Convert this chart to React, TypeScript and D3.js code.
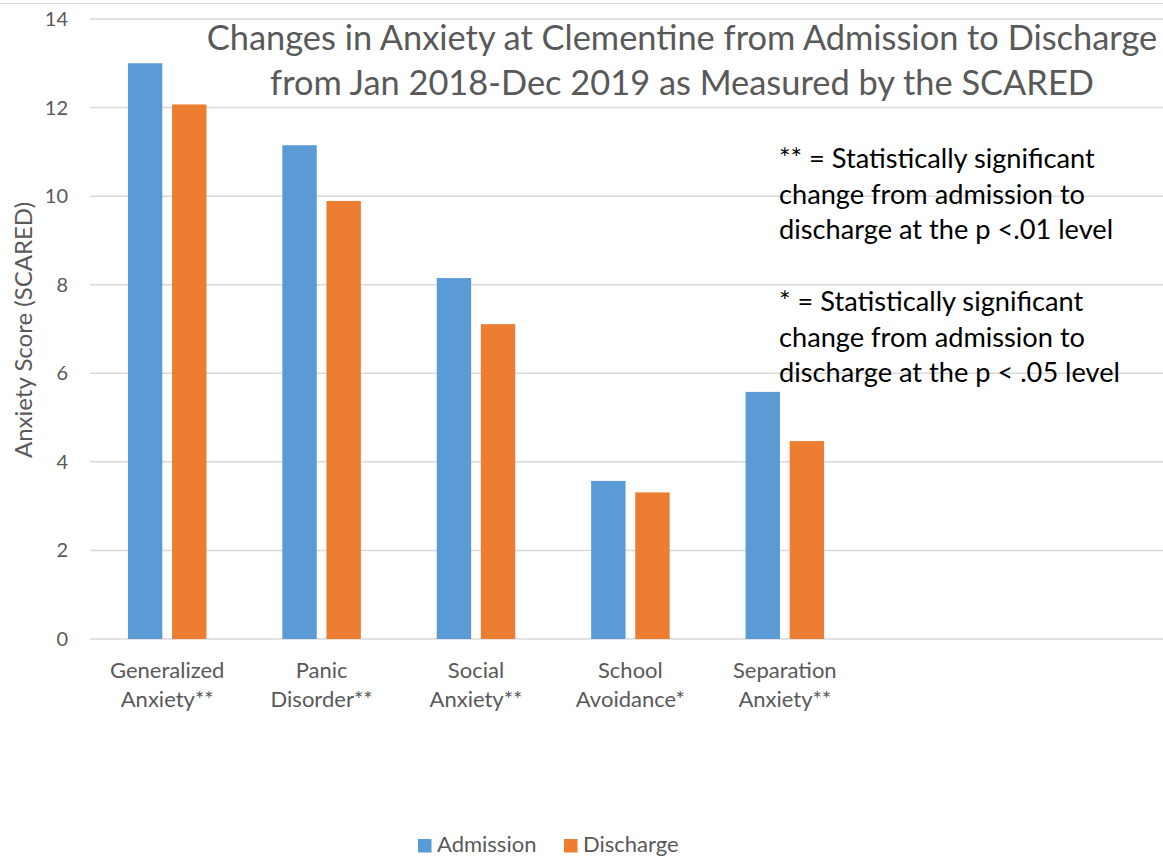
import React from "react";
import * as d3 from "d3";

// Category labels (two lines each) and the two series
const categoryLines: string[][] = [
  ["Generalized", "Anxiety**"],
  ["Panic", "Disorder**"],
  ["Social", "Anxiety**"],
  ["School", "Avoidance*"],
  ["Separation", "Anxiety**"],
];
const seriesNames = ["Admission", "Discharge"];
const admission = [13.0, 11.15, 8.15, 3.57, 5.58];
const discharge = [12.07, 9.89, 7.11, 3.31, 4.47];
const yTicks = [0, 2, 4, 6, 8, 10, 12, 14];
const slotCount = 7; // axis reserves two empty category slots on the right

const titleLines = [
  "Changes in Anxiety at Clementine from Admission to Discharge",
  "from Jan 2018-Dec 2019 as Measured by the SCARED",
];
const noteLines = [
  "** = Statistically significant",
  "change from admission to",
  "discharge at the p <.01 level",
  "",
  "* = Statistically significant",
  "change from admission to",
  "discharge at the p < .05 level",
];

const COLORS: Record<string, string> = { Admission: "#5B9BD5", Discharge: "#ED7D31" };
const FONT = "Lato, 'Open Sans', sans-serif";
const W = 1163;
const H = 859;

export default function App() {
  const plotLeft = 90;
  const plotTop = 19;
  const plotBottom = 639;

  const x0 = d3
    .scaleBand<number>()
    .domain(d3.range(slotCount))
    .range([plotLeft, plotLeft + 154.4 * slotCount])
    .padding(0);
  const step = x0.bandwidth();
  const groupW = 78.5;
  const x1 = d3
    .scaleBand<string>()
    .domain(seriesNames)
    .range([step / 2 - groupW / 2, step / 2 + groupW / 2])
    .paddingInner(0.22)
    .paddingOuter(0);
  const y = d3.scaleLinear().domain([0, 14]).range([plotBottom, plotTop]);

  const values: Record<string, number[]> = { Admission: admission, Discharge: discharge };

  return (
    <svg
      width={W}
      height={H}
      style={{ position: "absolute", left: 0, top: 0, display: "block", background: "#fff" }}
      fontFamily={FONT}
    >
      {/* chart frame top edge */}
      <line x1={0} x2={W} y1={3.5} y2={3.5} stroke="#d9d9d9" strokeWidth={1} />

      {/* horizontal gridlines */}
      {yTicks.map((t) => (
        <line
          key={"g" + t}
          x1={plotLeft}
          x2={W}
          y1={y(t)}
          y2={y(t)}
          stroke="#d9d9d9"
          strokeWidth={1.5}
        />
      ))}

      {/* y tick labels */}
      {yTicks.map((t) => (
        <text
          key={"t" + t}
          x={68}
          y={y(t)}
          dy="0.35em"
          textAnchor="end"
          fontSize={20}
          fill="#595959"
        >
          {t}
        </text>
      ))}

      {/* y axis title */}
      <text
        transform={`translate(32,330) rotate(-90)`}
        textAnchor="middle"
        fontSize={24}
        fill="#595959"
      >
        Anxiety Score (SCARED)
      </text>

      {/* bars */}
      {categoryLines.map((_, i) =>
        seriesNames.map((s) => {
          const v = values[s][i];
          return (
            <rect
              key={s + i}
              x={(x0(i) as number) + (x1(s) as number)}
              y={y(v)}
              width={x1.bandwidth()}
              height={y(0) - y(v)}
              fill={COLORS[s]}
            />
          );
        })
      )}

      {/* category labels */}
      {categoryLines.map((lines, i) => (
        <text
          key={"c" + i}
          x={(x0(i) as number) + step / 2}
          y={678}
          textAnchor="middle"
          fontSize={22}
          fill="#595959"
        >
          {lines.map((ln, k) => (
            <tspan key={k} x={(x0(i) as number) + step / 2} dy={k === 0 ? 0 : 29}>
              {ln}
            </tspan>
          ))}
        </text>
      ))}

      {/* title */}
      {titleLines.map((ln, k) => (
        <text
          key={"ti" + k}
          x={682}
          y={50 + k * 45}
          textAnchor="middle"
          fontSize={34.4}
          fill="#595959"
        >
          {ln}
        </text>
      ))}

      {/* significance note */}
      {noteLines.map((ln, k) => (
        <text key={"n" + k} x={779} y={168 + k * 35.7} fontSize={27.2} fill="#000">
          {ln}
        </text>
      ))}

      {/* legend */}
      {seriesNames.map((s, k) => {
        const lx = k === 0 ? 418 : 564;
        return (
          <g key={"l" + s}>
            <rect x={lx} y={839} width={13.5} height={13.5} fill={COLORS[s]} />
            <text x={lx + 19} y={852} fontSize={22} fill="#595959">
              {s}
            </text>
          </g>
        );
      })}
    </svg>
  );
}
